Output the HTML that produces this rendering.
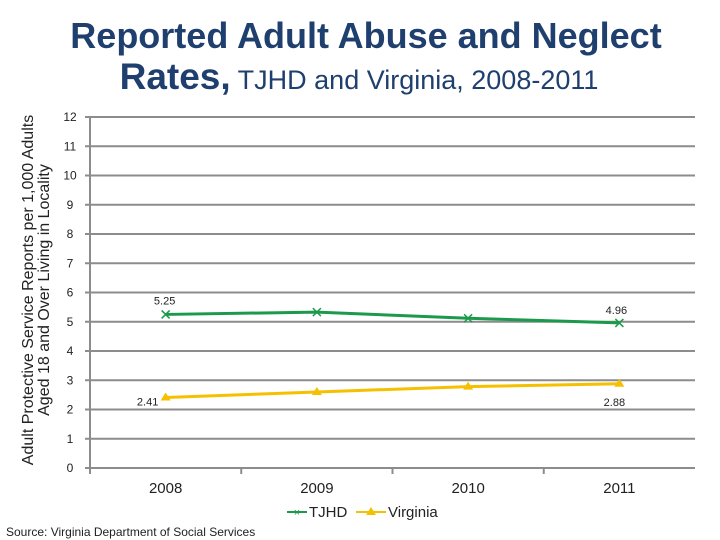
<!DOCTYPE html>
<html><head><style>
body{margin:0;background:#fff;width:720px;height:540px;overflow:hidden;font-family:"Liberation Sans",sans-serif}
</style></head><body>
<svg width="720" height="540" style="position:absolute;left:0;top:0">
<text x="366" y="48" text-anchor="middle" font-size="36" font-weight="bold" fill="#1f3f6f">Reported Adult Abuse and Neglect</text>
<text x="359" y="89" text-anchor="middle" fill="#1f3f6f"><tspan font-size="37" font-weight="bold">Rates,</tspan><tspan font-size="27"> TJHD and Virginia, 2008-2011</tspan></text>
<text transform="translate(33,290) rotate(-90)" text-anchor="middle" font-size="16" fill="#222">Adult Protective Service Reports per 1,000 Adults</text>
<text transform="translate(49,290) rotate(-90)" text-anchor="middle" font-size="16" fill="#222">Aged 18 and Over Living in Locality</text>
<g id="g"></g>
<g>
<line x1="287" y1="512" x2="307" y2="512" stroke="#1a9a4a" stroke-width="2"/>
<text x="297" y="516" text-anchor="middle" font-size="11" fill="#1a9a4a">×</text>
<text x="309" y="517" font-size="15" fill="#222">TJHD</text>
<line x1="356" y1="512" x2="386" y2="512" stroke="#f5c000" stroke-width="2"/>
<polygon points="371,507 376,515 366,515" fill="#f5c000"/>
<text x="388" y="517" font-size="15" fill="#222">Virginia</text>
</g>
<text x="6" y="536" font-size="12" fill="#222">Source: Virginia Department of Social Services</text>
</svg>
<script>
const categories=["2008","2009","2010","2011"];
const tjhd=[5.25,5.33,5.12,4.96];
const virginia=[2.41,2.6,2.78,2.88];
const yTicks=[0,1,2,3,4,5,6,7,8,9,10,11,12];
const tjhdLabels=["5.25","","","4.96"];
const vaLabels=["2.41","","","2.88"];
const NS="http://www.w3.org/2000/svg";
const g=document.getElementById('g');
const X0=90,X1=695,Y0=468,Y1=117;
const y=v=>Y0-(v/12)*(Y0-Y1);
const bw=(X1-X0)/categories.length;
const x=i=>X0+bw*(i+0.5);
function el(t,a,p){const e=document.createElementNS(NS,t);for(const k in a)e.setAttribute(k,a[k]);(p||g).appendChild(e);return e;}
yTicks.forEach(v=>{
 const l=el('line',{x1:85,x2:X1,y1:y(v),y2:y(v),stroke:'#8c8c8c','stroke-width':2});
 
 
 const t=el('text',{x:70,y:y(v)+4,'text-anchor':'middle','font-size':12,fill:'#222'});
 t.textContent=v;
 
 
});
el('line',{x1:X0,x2:X0,y1:Y1,y2:Y0+6,stroke:'#8c8c8c','stroke-width':2});
for(let i=1;i<categories.length;i++)el('line',{x1:X0+bw*i,x2:X0+bw*i,y1:Y0,y2:Y0+6,stroke:'#8c8c8c','stroke-width':2});
categories.forEach((c,i)=>{
 const t=el('text',{x:x(i),y:493,'text-anchor':'middle','font-size':15,fill:'#222'});
 t.textContent=c;
 
 
});
function series(vals,col,name,labels,marker,lblPos){
 const p=el('polyline',{points:vals.map((v,i)=>x(i)+','+y(v)).join(' '),fill:'none',stroke:col,'stroke-width':3});
 
 
 vals.forEach((v,i)=>{
  let m;
  if(marker==='x'){m=el('path',{d:`M${x(i)-4},${y(v)-4}L${x(i)+4},${y(v)+4}M${x(i)-4},${y(v)+4}L${x(i)+4},${y(v)-4}`,stroke:col,'stroke-width':1.5});}
  else{m=el('polygon',{points:`${x(i)},${y(v)-5} ${x(i)+5},${y(v)+3} ${x(i)-5},${y(v)+3}`,fill:col});}
  
  
  if(labels[i]){
   const [dx,dy]=lblPos[i];
   const t=el('text',{x:x(i)+dx,y:y(v)+dy,'text-anchor':'middle','font-size':11,fill:'#222'});
   t.textContent=labels[i];
   
   
  }
 });
}
series(tjhd,'#1a9a4a','tjhd',tjhdLabels,'x',[[-1,-10],0,0,[-3,-9]]);
series(virginia,'#f5c000','virginia',vaLabels,'tri',[[-18,8],0,0,[-5,22]]);
</script>
</body></html>
